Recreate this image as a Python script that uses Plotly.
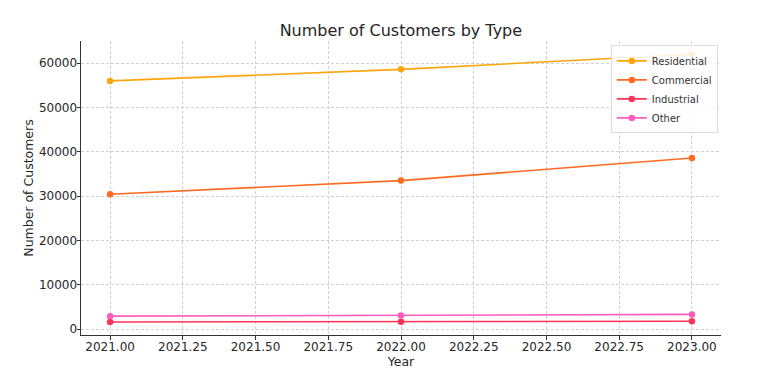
import plotly.graph_objects as go

years = [2021, 2022, 2023]
residential = [56000, 58600, 62000]
commercial = [30400, 33500, 38600]
industrial = [1600, 1650, 1750]
other = [2900, 3050, 3300]

series_names = ["Residential", "Commercial", "Industrial", "Other"]
series_values = [residential, commercial, industrial, other]
colors = ["#ffa50a", "#ff6a22", "#ff3358", "#ff5cbe"]

fig = go.Figure()
for name, vals, c in zip(series_names, series_values, colors):
    fig.add_trace(go.Scatter(
        x=years, y=vals, name=name, mode="lines+markers",
        line=dict(color=c, width=1.6),
        marker=dict(color=c, size=6.5),
    ))

axis_common = dict(
    showgrid=True, gridcolor="#d0d0d0", griddash="3px,2px", gridwidth=0.8,
    zeroline=False, showline=True, linecolor="#333333", linewidth=1,
    ticks="outside", ticklen=3.5, tickcolor="#333333", automargin=False,
    tickfont=dict(family="DejaVu Sans", size=12, color="#262626"),
    title_font=dict(family="DejaVu Sans", size=12.5, color="#262626"),
)

# the page body adds an 8px offset, so the figure is sized 8px smaller
fig.update_layout(
    width=757, height=369,
    margin=dict(l=73, r=44, t=33, b=42),
    paper_bgcolor="white", plot_bgcolor="white",
    title=dict(text="Number of Customers by Type", x=0.519, xanchor="center",
               y=0.94, yanchor="middle", automargin=False,
               font=dict(family="DejaVu Sans", size=16, color="#262626")),
    xaxis=dict(range=[2020.9, 2023.1], dtick=0.25, tick0=2021, tickformat=".2f",
               ticklabelstandoff=-3,
               title=dict(text="Year", standoff=0), **axis_common),
    yaxis=dict(range=[-1350, 65000], dtick=10000, tickformat="d",
               ticklabelstandoff=-3,
               title=dict(text="Number of Customers", standoff=2), **axis_common),
    legend=dict(x=0.995, y=0.985, xanchor="right", yanchor="top",
                bgcolor="rgba(255,255,255,0.85)", bordercolor="#dddddd", borderwidth=1,
                font=dict(family="DejaVu Sans", size=10, color="#333333"),
                tracegroupgap=0, itemwidth=30),
    showlegend=True,
)

fig.write_html("out.html")
